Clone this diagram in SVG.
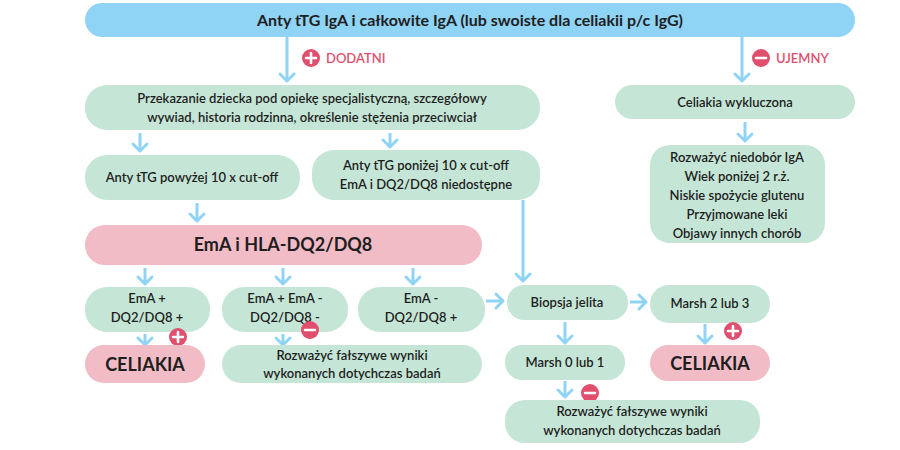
<svg xmlns="http://www.w3.org/2000/svg" width="900" height="450" viewBox="0 0 900 450">
<style>
text{font-family:Lato,"Open Sans","Liberation Sans",sans-serif;fill:#1e1e1e;text-anchor:middle}
.g{fill:#c5e6d6}.p{fill:#f2bcc6}.b{fill:#8fd3f5}
.t{font-size:13px;font-weight:600}
.lab{font-size:13px;fill:#e0506e;text-anchor:start;font-weight:600}
.c line{stroke:#8fd3f5;stroke-width:3;fill:none}
.c path{stroke:#8fd3f5;stroke-width:3;fill:none;stroke-linecap:round;stroke-linejoin:round}
.sg circle{fill:#e0506e}.sg path{stroke:#fff;stroke-width:2.6;stroke-linecap:round}
</style>
<rect width="900" height="450" fill="#fff"/>
<g class="c">
<line x1="287" y1="37" x2="287" y2="81"/><path d="M280,74 287,81 294,74"/>
<line x1="742" y1="37" x2="742" y2="81"/><path d="M735,74 742,81 749,74"/>
<line x1="745" y1="122" x2="745" y2="141"/><path d="M738,134 745,141 752,134"/>
<line x1="140" y1="133" x2="140" y2="151"/><path d="M133,144 140,151 147,144"/>
<line x1="390" y1="133" x2="390" y2="147"/><path d="M383,140 390,147 397,140"/>
<line x1="197" y1="203" x2="197" y2="221"/><path d="M190,214 197,221 204,214"/>
<line x1="145" y1="268" x2="145" y2="284"/><path d="M138,277 145,284 152,277"/>
<line x1="283" y1="268" x2="283" y2="284"/><path d="M276,277 283,284 290,277"/>
<line x1="413" y1="268" x2="413" y2="284"/><path d="M406,277 413,284 420,277"/>
<line x1="523" y1="200" x2="523" y2="281"/><path d="M516,274 523,281 530,274"/>
<line x1="486" y1="301" x2="503" y2="301"/><path d="M496,294 503,301 496,308"/>
<line x1="630" y1="302" x2="646" y2="302"/><path d="M639,295 646,302 639,309"/>
<line x1="145" y1="334" x2="145" y2="345"/><path d="M138,338 145,345 152,338"/>
<line x1="283" y1="334" x2="283" y2="345"/><path d="M276,338 283,345 290,338"/>
<line x1="565" y1="322" x2="565" y2="343"/><path d="M558,336 565,343 572,336"/>
<line x1="565" y1="381" x2="565" y2="397"/><path d="M558,390 565,397 572,390"/>
<line x1="705" y1="324" x2="705" y2="343"/><path d="M698,336 705,343 712,336"/>
</g>
<g id="top"><rect class="b" x="85" y="3" width="770" height="34" rx="17"/><text x="470" y="26" style="font-size:16px;font-weight:700">Anty tTG IgA i całkowite IgA (lub swoiste dla celiakii p/c IgG)</text></g>
<g id="dodatni" class="sg"><circle cx="311" cy="58" r="9"/><path d="M306,58H316M311,53V63"/><text class="lab" x="326" y="63">DODATNI</text></g>
<g id="ujemny" class="sg"><circle cx="761" cy="58" r="9"/><path d="M756,58H766"/><text class="lab" x="776" y="63">UJEMNY</text></g>
<g id="przekazanie"><rect class="g" x="85" y="85" width="455" height="45" rx="22"/><text class="t" x="312" y="103">Przekazanie dziecka pod opiekę specjalistyczną, szczegółowy</text><text class="t" x="312" y="122">wywiad, historia rodzinna, określenie stężenia przeciwciał</text></g>
<g id="wykluczona"><rect class="g" x="615" y="85" width="240" height="34" rx="17"/><text class="t" x="735" y="107">Celiakia wykluczona</text></g>
<g id="rozwazyc1"><rect class="g" x="650" y="145" width="175" height="98" rx="20"/><text class="t" x="737" y="162">Rozważyć niedobór IgA</text><text class="t" x="737" y="181">Wiek poniżej 2 r.ż.</text><text class="t" x="737" y="200">Niskie spożycie glutenu</text><text class="t" x="737" y="219">Przyjmowane leki</text><text class="t" x="737" y="238">Objawy innych chorób</text></g>
<g id="powyzej"><rect class="g" x="85" y="155" width="215" height="45" rx="22"/><text class="t" x="192" y="182">Anty tTG powyżej 10 x cut-off</text></g>
<g id="ponizej"><rect class="g" x="312" y="150" width="228" height="50" rx="22"/><text class="t" x="426" y="170">Anty tTG poniżej 10 x cut-off</text><text class="t" x="426" y="189">EmA i DQ2/DQ8 niedostępne</text></g>
<g id="ema"><rect class="p" x="85" y="225" width="397" height="40" rx="20"/><text x="283" y="251" style="font-size:18px;font-weight:700">EmA i HLA-DQ2/DQ8</text></g>
<g id="n1"><rect class="g" x="85" y="287" width="125" height="45" rx="22"/><text class="t" x="147" y="303">EmA +</text><text class="t" x="147" y="322">DQ2/DQ8 +</text></g>
<g id="n2"><rect class="g" x="222" y="287" width="126" height="45" rx="22"/><text class="t" x="285" y="303">EmA + EmA -</text><text class="t" x="285" y="322">DQ2/DQ8 -</text></g>
<g id="n3"><rect class="g" x="358" y="287" width="127" height="45" rx="22"/><text class="t" x="421" y="303">EmA -</text><text class="t" x="421" y="322">DQ2/DQ8 +</text></g>
<g id="biopsja"><rect class="g" x="507" y="285" width="121" height="35" rx="17"/><text class="t" x="567" y="307">Biopsja jelita</text></g>
<g id="marsh23"><rect class="g" x="650" y="285" width="120" height="38" rx="19"/><text class="t" x="710" y="308">Marsh 2 lub 3</text></g>
<g id="plus1" class="sg"><circle cx="178" cy="337" r="9"/><path d="M173,337H183M178,332V342"/></g>
<g id="minus1" class="sg"><circle cx="310" cy="330" r="9"/><path d="M305,330H315"/></g>
<g id="celiakia1"><rect class="p" x="85" y="345" width="120" height="38" rx="19"/><text x="145" y="371" style="font-size:18px;font-weight:700">CELIAKIA</text></g>
<g id="rozwazyc2"><rect class="g" x="222" y="345" width="260" height="38" rx="19"/><text class="t" x="352" y="360">Rozważyć fałszywe wyniki</text><text class="t" x="352" y="378">wykonanych dotychczas badań</text></g>
<g id="marsh01"><rect class="g" x="505" y="345" width="120" height="35" rx="17"/><text class="t" x="565" y="367">Marsh 0 lub 1</text></g>
<g id="plus2" class="sg"><circle cx="733" cy="331" r="9"/><path d="M728,331H738M733,326V336"/></g>
<g id="celiakia2"><rect class="p" x="650" y="345" width="120" height="36" rx="18"/><text x="710" y="370" style="font-size:18px;font-weight:700">CELIAKIA</text></g>
<g id="minus2" class="sg"><circle cx="590" cy="393" r="9"/><path d="M585,393H595"/></g>
<g id="rozwazyc3"><rect class="g" x="505" y="400" width="255" height="43" rx="20"/><text class="t" x="632" y="416">Rozważyć fałszywe wyniki</text><text class="t" x="632" y="435">wykonanych dotychczas badań</text></g>
</svg>
